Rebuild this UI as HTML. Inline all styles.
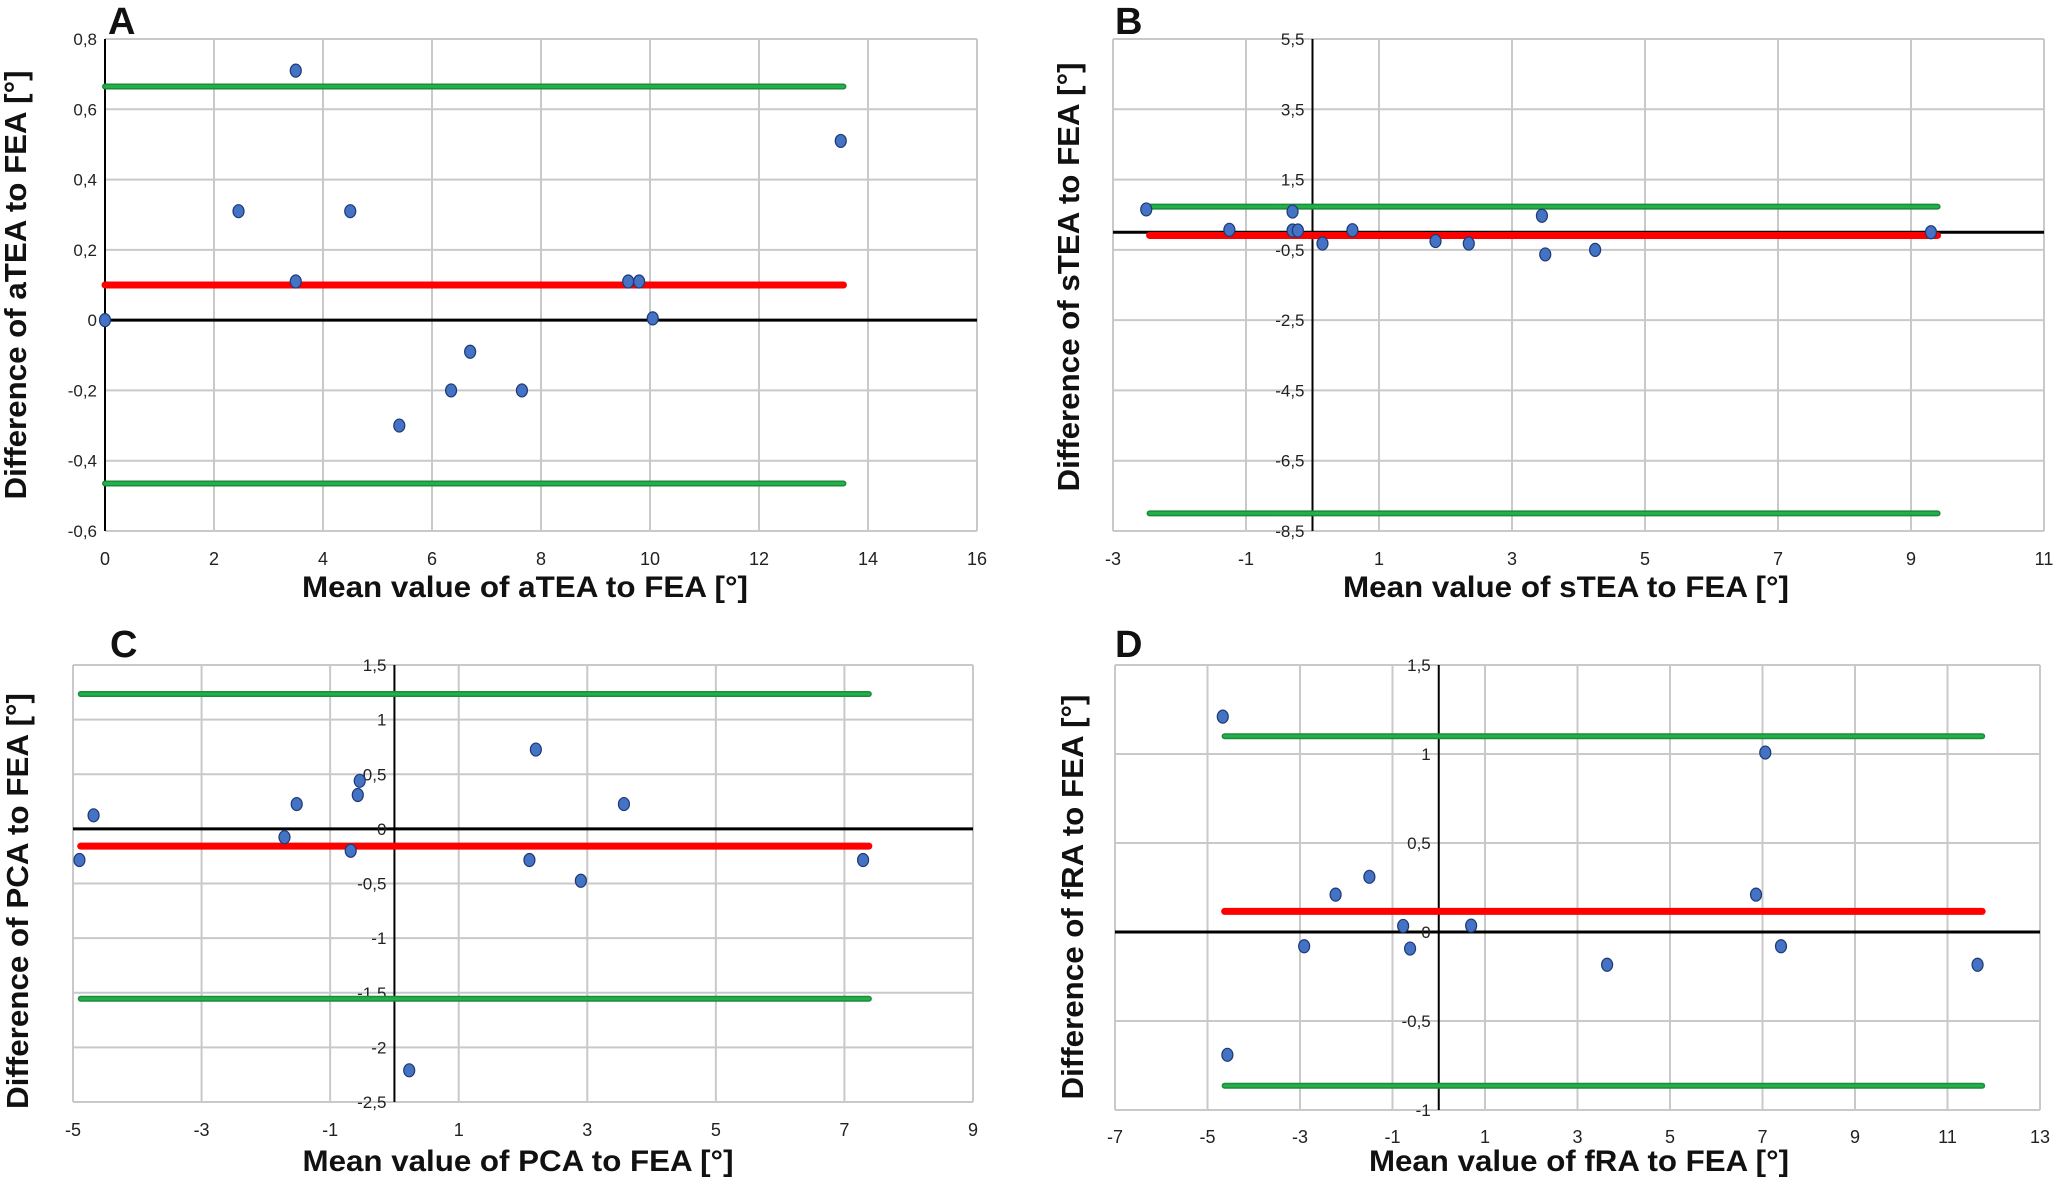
<!DOCTYPE html>
<html><head><meta charset="utf-8"><style>
html,body{margin:0;padding:0;background:#fff;}
svg{display:block;}
text{font-family:"Liberation Sans",sans-serif;}
</style></head><body>
<svg id="fig" width="2056" height="1180" viewBox="0 0 2056 1180" xmlns="http://www.w3.org/2000/svg"></svg>
<script>
// Panel A data
const aX = [0, 2.45, 3.5, 3.5, 4.5, 5.4, 6.35, 6.7, 7.65, 9.6, 9.8, 10.05, 13.5];
const aY = [0, 0.31, 0.71, 0.11, 0.31, -0.3, -0.2, -0.09, -0.2, 0.11, 0.11, 0.005, 0.51];
const aStats = [0.1, 0.665, -0.465];
const aXTicks = ["0","2","4","6","8","10","12","14","16"];
const aYTicks = ["-0,6","-0,4","-0,2","0","0,2","0,4","0,6","0,8"];
// Panel B data
const bX = [-2.5, -1.25, -0.3, -0.3, -0.22, 0.15, 0.6, 1.85, 2.35, 3.45, 3.5, 4.25, 9.3];
const bY = [0.65, 0.07, 0.59, 0.05, 0.05, -0.32, 0.06, -0.25, -0.32, 0.47, -0.63, -0.5, 0.0];
const bStats = [-0.09, 0.73, -8.0];
const bXTicks = ["-3","-1","1","3","5","7","9","11"];
const bYTicks = ["-8,5","-6,5","-4,5","-2,5","-0,5","1,5","3,5","5,5"];
// Panel C data
const cX = [-4.9, -4.68, -1.71, -1.52, -0.68, -0.57, -0.54, 0.23, 2.1, 2.2, 2.9, 3.57, 7.29];
const cY = [-0.285, 0.124, -0.076, 0.227, -0.2, 0.31, 0.44, -2.21, -0.285, 0.726, -0.475, 0.227, -0.285];
const cStats = [-0.158, 1.235, -1.555];
const cXTicks = ["-5","-3","-1","1","3","5","7","9"];
const cYTicks = ["-2,5","-2","-1,5","-1","-0,5","0","0,5","1","1,5"];
// Panel D data
const dX = [-4.67, -4.57, -2.91, -2.23, -1.5, -0.77, -0.62, 0.7, 3.64, 6.86, 7.06, 7.4, 11.65];
const dY = [1.21, -0.69, -0.08, 0.21, 0.31, 0.034, -0.093, 0.036, -0.184, 0.21, 1.008, -0.08, -0.184];
const dStats = [0.116, 1.1, -0.864];
const dXTicks = ["-7","-5","-3","-1","1","3","5","7","9","11","13"];
const dYTicks = ["-1","-0,5","0","0,5","1","1,5"];

const NS="http://www.w3.org/2000/svg";
const svg=document.getElementById('fig');
function mk(tag,attrs,parent){const e=document.createElementNS(NS,tag);for(const k in attrs)e.setAttribute(k,attrs[k]);(parent||svg).appendChild(e);return e;}
function num(s){return parseFloat(s.replace(',','.'));}

function panel(cfg){
  const g=mk('g',{});
  
  
  const x0=num(cfg.xt[0]), x1=num(cfg.xt[cfg.xt.length-1]);
  const y0=num(cfg.yt[0]), y1=num(cfg.yt[cfg.yt.length-1]);
  const sx=v=>cfg.L+(v-x0)/(x1-x0)*(cfg.R-cfg.L);
  const sy=v=>cfg.B-(v-y0)/(y1-y0)*(cfg.B-cfg.T);
  cfg.xt.forEach(t=>{const l=mk('line',{x1:sx(num(t)),x2:sx(num(t)),y1:cfg.T,y2:cfg.B,stroke:'#c9c9c9','stroke-width':2},g);
    });
  cfg.yt.forEach(t=>{const l=mk('line',{x1:cfg.L,x2:cfg.R,y1:sy(num(t)),y2:sy(num(t)),stroke:'#c9c9c9','stroke-width':2},g);
    });
  const ax0=Math.max(x0,0);
  const va=mk('line',{x1:sx(ax0),x2:sx(ax0),y1:cfg.T,y2:cfg.B,stroke:'#000','stroke-width':2},g);
  
  const ha=mk('line',{x1:cfg.L,x2:cfg.R,y1:sy(0),y2:sy(0),stroke:'#000','stroke-width':3},g);
  
  cfg.yt.forEach(t=>{const e=mk('text',{x:sx(ax0)-8,y:sy(num(t))+6,'text-anchor':'end','font-size':17,fill:'#222'},g);e.textContent=t;
    });
  cfg.xt.forEach(t=>{const e=mk('text',{x:sx(num(t)),y:cfg.xty,'text-anchor':'middle','font-size':18,fill:'#222'},g);e.textContent=t;
    });
  const lx1=sx(cfg.lx[0]), lx2=sx(cfg.lx[1]);
  [[cfg.st[1],'upper-loa-line'],[cfg.st[2],'lower-loa-line']].forEach(([v,n])=>{
    const l=mk('line',{x1:lx1,x2:lx2,y1:sy(v),y2:sy(v),stroke:'#1e8a3a','stroke-width':6,'stroke-linecap':'round'},g);
    
    mk('line',{x1:lx1,x2:lx2,y1:sy(v),y2:sy(v),stroke:'#22b04b','stroke-width':3,'stroke-linecap':'round'},g);
  });
  const m=mk('line',{x1:lx1,x2:lx2,y1:sy(cfg.st[0]),y2:sy(cfg.st[0]),stroke:'#ff0000','stroke-width':7,'stroke-linecap':'round'},g);
  
  cfg.xs.forEach((v,i)=>{const c=mk('ellipse',{cx:sx(v),cy:sy(cfg.ys[i]),rx:5.5,ry:6.5,fill:'#4472c4',stroke:'#1f3a73','stroke-width':1.2},g);
    });
  const xt=mk('text',{x:cfg.xtitle[0],y:cfg.xtitle[1],'text-anchor':'middle','font-size':30,'font-weight':'bold',fill:'#111',textLength:cfg.xtitle[2],lengthAdjust:'spacingAndGlyphs'},g);
  xt.textContent=cfg.xlab;
  const yt=mk('text',{x:0,y:0,'text-anchor':'middle','font-size':31,'font-weight':'bold',fill:'#111',textLength:cfg.ytitle[2],lengthAdjust:'spacingAndGlyphs',transform:`translate(${cfg.ytitle[0]},${cfg.ytitle[1]}) rotate(-90)`},g);
  yt.textContent=cfg.ylab;
  const lt=mk('text',{x:cfg.letter[0],y:cfg.letter[1],'font-size':38,'font-weight':'bold',fill:'#111'},g);
  lt.textContent=cfg.id;
}

panel({id:'A',L:105,R:977,T:39,B:531,xt:aXTicks,yt:aYTicks,xs:aX,ys:aY,st:aStats,lx:[0,13.55],xty:565,
  xtitle:[525,597,446],xlab:'Mean value of aTEA to FEA [°]',ytitle:[26,285,429],ylab:'Difference of aTEA to FEA [°]',letter:[108,34]});
panel({id:'B',L:1113,R:2044,T:39,B:531,xt:bXTicks,yt:bYTicks,xs:bX,ys:bY,st:bStats,lx:[-2.45,9.4],xty:565,
  xtitle:[1566,597,446],xlab:'Mean value of sTEA to FEA [°]',ytitle:[1079,277,429],ylab:'Difference of sTEA to FEA [°]',letter:[1115,34]});
panel({id:'C',L:73,R:973,T:665,B:1102,xt:cXTicks,yt:cYTicks,xs:cX,ys:cY,st:cStats,lx:[-4.88,7.38],xty:1136,
  xtitle:[518,1171,431],xlab:'Mean value of PCA to FEA [°]',ytitle:[28,901,416],ylab:'Difference of PCA to FEA [°]',letter:[110,657]});
panel({id:'D',L:1115,R:2040,T:665,B:1110,xt:dXTicks,yt:dYTicks,xs:dX,ys:dY,st:dStats,lx:[-4.63,11.75],xty:1143,
  xtitle:[1579,1171,420],xlab:'Mean value of fRA to FEA [°]',ytitle:[1083,897,405],ylab:'Difference of fRA to FEA [°]',letter:[1115,657]});
</script>
</body></html>
